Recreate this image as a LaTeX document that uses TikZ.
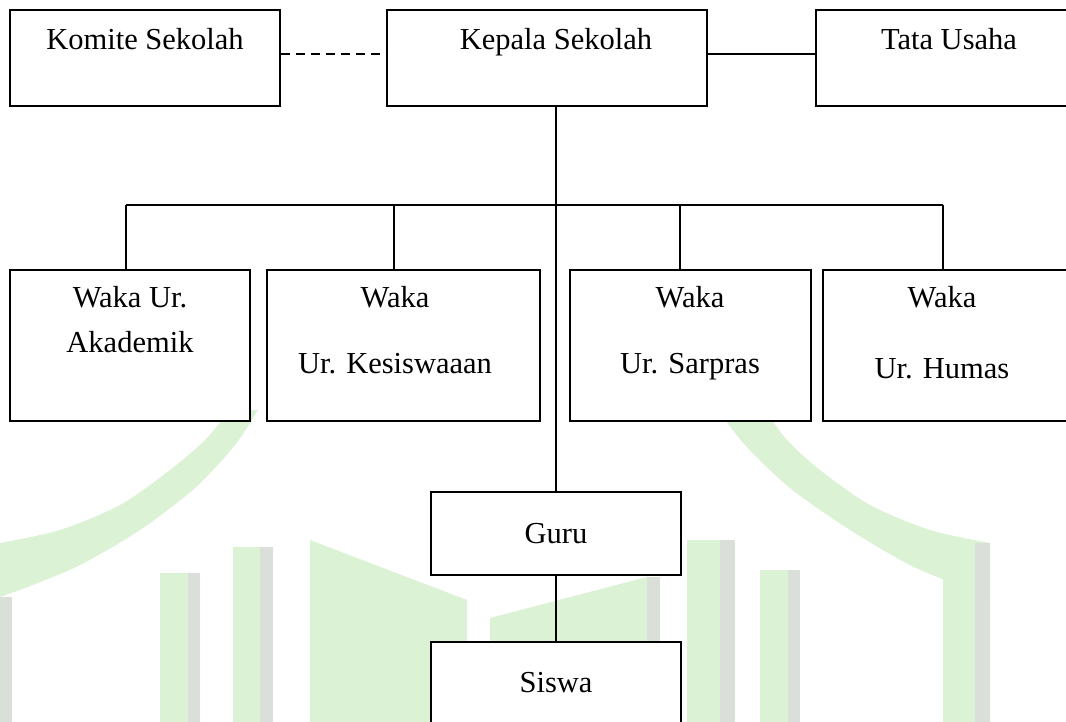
\documentclass[tikz,border=0pt]{standalone}
\usepackage{fontspec}
\setmainfont{Liberation Serif}
\definecolor{wmgreen}{RGB}{219,242,213}
\definecolor{wmgray}{RGB}{218,223,218}
\begin{document}
\begin{tikzpicture}[x=1pt,y=-1pt,
  box/.style={draw=black, line width=1.5pt, fill=white, rectangle, inner sep=0pt},
  lbl/.style={anchor=base, inner sep=0pt, font=\fontsize{30.5}{36}\selectfont},
  conn/.style={draw=black, line width=1.3pt},
  wm/.style={fill=wmgreen, draw=none},
  wme/.style={fill=wmgray, draw=none}]
\useasboundingbox (0,0) rectangle (1066,722);
\clip (0,0) rectangle (1066,722);
\fill[white] (0,0) rectangle (1066,722);
% ---- faint watermark ----
\fill[wm] plot[smooth] coordinates {(0,543) (60,530) (120,505) (170,470) (205,440) (230,410)}
  -- plot[smooth] coordinates {(258,410) (235,445) (195,488) (140,530) (80,565) (30,586) (0,597)} -- cycle;
\fill[wm] plot[smooth] coordinates {(990,543) (930,530) (870,505) (820,470) (787,440) (765,410)}
  -- plot[smooth] coordinates {(718,410) (745,445) (790,488) (850,530) (910,565) (960,586) (990,597)} -- cycle;
\fill[wme] (0,597) rectangle (12,722);
\fill[wm] (943,543) rectangle (976,722);
\fill[wme] (975,543) rectangle (990,722);
\fill[wm] (160,573) rectangle (190,722);
\fill[wme] (188,573) rectangle (200,722);
\fill[wm] (233,547) rectangle (262,722);
\fill[wme] (260,547) rectangle (273,722);
\fill[wm] (310,540) -- (467,600) -- (467,722) -- (310,722) -- cycle;
\fill[wm] (490,618) -- (647,577) -- (647,722) -- (490,722) -- cycle;
\fill[wme] (647,577) rectangle (660,722);
\fill[wm] (687,540) rectangle (722,722);
\fill[wme] (720,540) rectangle (735,722);
\fill[wm] (760,570) rectangle (790,722);
\fill[wme] (788,570) rectangle (800,722);
% ---- boxes ----
\node[box, minimum width=270pt, minimum height=96pt] (komite) at (145,58) {};
\node[box, minimum width=320pt, minimum height=96pt] (kepala) at (547,58) {};
\node[box, minimum width=254pt, minimum height=96pt] (tata) at (943,58) {};
\node[box, minimum width=240pt, minimum height=151pt] (wakaA) at (130,345.5) {};
\node[box, minimum width=273pt, minimum height=151pt] (wakaK) at (403.5,345.5) {};
\node[box, minimum width=241pt, minimum height=151pt] (wakaS) at (690.5,345.5) {};
\node[box, minimum width=245pt, minimum height=151pt] (wakaH) at (945.5,345.5) {};
\node[box, minimum width=250pt, minimum height=83pt] (guru) at (556,533.5) {};
\node[box, minimum width=250pt, minimum height=90pt] (siswa) at (556,687) {};
% ---- texts ----
\node[lbl] (tKomite) at (145,50) {Komite Sekolah};
\node[lbl] (tKepala) at (556,50) {Kepala Sekolah};
\node[lbl] (tTata) at (949,50) {Tata Usaha};
\node[lbl] (tA1) at (130,308) {Waka Ur.};
\node[lbl] (tA2) at (130,352) {Akademik};
\node[lbl] (tK1) at (395,308) {Waka};
\node[lbl] (tK2) at (395,373) {Ur. Kesiswaaan};
\node[lbl] (tS1) at (690,308) {Waka};
\node[lbl] (tS2) at (690,373) {Ur. Sarpras};
\node[lbl] (tH1) at (942,308) {Waka};
\node[lbl] (tH2) at (942,378) {Ur. Humas};
\node[lbl] (tGuru) at (556,543) {Guru};
\node[lbl] (tSiswa) at (556,692) {Siswa};
% ---- connectors ----
\coordinate (dA) at (126,205);
\coordinate (dK) at (394,205);
\coordinate (dS) at (680,205);
\coordinate (dH) at (943,205);
\draw[conn, dash pattern=on 9pt off 6pt] ([yshift=4pt]komite.east) -- ([yshift=4pt]kepala.west);
\draw[conn] ([yshift=4pt]kepala.east) -- ([yshift=4pt]tata.west);
\draw[conn] (guru.north |- kepala.south) -- (guru.north);
\draw[conn] (dA) -- (dH);
\draw[conn] (dA) -- (dA |- wakaA.north);
\draw[conn] (dK) -- (dK |- wakaK.north);
\draw[conn] (dS) -- (dS |- wakaS.north);
\draw[conn] (dH) -- (dH |- wakaH.north);
\draw[conn] (guru.south) -- (siswa.north);
\end{tikzpicture}
\end{document}
